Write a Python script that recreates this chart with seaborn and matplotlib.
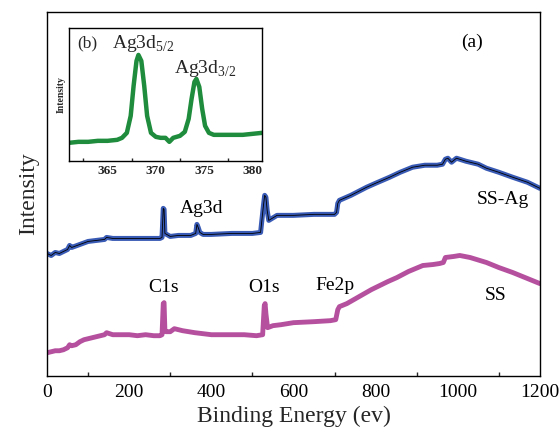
import matplotlib
matplotlib.use("Agg")
import matplotlib.pyplot as plt
import seaborn as sns
import pandas as pd
from matplotlib.ticker import MultipleLocator

sns.set_theme(style="white")
plt.rcParams['font.family'] = ['Liberation Serif', 'DejaVu Serif']
plt.rcParams['mathtext.fontset'] = 'custom'
plt.rcParams['mathtext.rm'] = 'Liberation Serif'

# ---- data (arbitrary intensity units) ----
ss_energy = [0, 10, 20, 30, 40, 50, 55, 60, 70, 80, 90, 100, 120, 140, 145, 160, 180, 200,
             220, 240, 260, 275, 280, 283, 285, 287, 290, 300, 310, 330, 360, 400, 440, 480,
             510, 525, 529, 531, 533, 537, 550, 570, 600, 650, 690, 703, 708, 712, 730, 760,
             790, 810, 830, 852, 880, 915, 940, 956, 965, 970, 990, 1005, 1030, 1070, 1100,
             1134, 1170, 1200]
ss_intensity = [23, 24, 25, 25, 26, 28, 31, 30, 31, 34, 36, 37, 39, 41, 43, 41, 41, 41,
                40, 41, 40, 40, 41, 72, 73, 45, 44, 44, 47, 45, 43, 41, 41, 41,
                40, 41, 70, 72, 62, 48, 50, 51, 53, 54, 55, 56, 66, 69, 72, 79,
                86, 90, 94, 98, 104, 110, 111, 112, 113, 118, 119, 120, 118, 113, 108,
                103, 97, 92]

ssag_energy = [0, 10, 20, 30, 40, 50, 55, 60, 80, 100, 120, 140, 145, 160, 200, 240, 275,
               280, 283, 285, 287, 300, 320, 350, 362, 365, 368, 372, 380, 400, 450, 500,
               520, 527, 530, 533, 536, 540, 560, 600, 650, 700, 705, 708, 712, 740, 778,
               800, 834, 860, 890, 920, 950, 963, 970, 976, 985, 997, 1020, 1050, 1070,
               1100, 1134, 1170, 1200]
ssag_intensity = [122, 120, 123, 122, 124, 126, 130, 128, 131, 134, 135, 136, 138, 137, 137,
                  137, 137, 138, 167, 166, 142, 139, 140, 140, 142, 151, 148, 143, 141, 141,
                  142, 142, 143, 170, 180, 178, 165, 155, 160, 160, 161, 161, 163, 172, 175,
                  180, 188, 192, 198, 203, 208, 210, 210, 211, 216, 217, 213, 217, 214, 211,
                  207, 203, 198, 193, 187]

ag_energy = [361, 362, 363, 364, 365, 366, 366.5, 367, 367.4, 367.7, 368.0, 368.2, 368.5,
             368.8, 369.1, 369.5, 370, 370.5, 371, 371.4, 371.8, 372.5, 373, 373.4, 373.7,
             374.0, 374.2, 374.5, 374.8, 375.1, 375.5, 376, 377, 378, 379, 380, 381]
ag_intensity = [18, 19, 19, 20, 20, 21, 23, 28, 45, 75, 100, 106, 100, 75, 45, 28, 24, 23,
                23, 19, 23, 25, 29, 42, 62, 79, 82, 74, 52, 35, 28, 26, 26, 26, 26, 27, 28]

main_ticks = [0, 200, 400, 600, 800, 1000, 1200]
inset_ticks = [365, 370, 375, 380]

pink = "#B5509F"
blue = "#3A5BB5"
green = "#1E8C3C"

fig = plt.figure(figsize=(5.6, 4.37), dpi=100)
ax = fig.add_axes([0.084, 0.140, 0.880, 0.833])

df_ss = pd.DataFrame({"e": ss_energy, "i": ss_intensity})
df_ag = pd.DataFrame({"e": ssag_energy, "i": ssag_intensity})
sns.lineplot(data=df_ss, x="e", y="i", ax=ax, color=pink, lw=3.5, sort=False, estimator=None)
sns.lineplot(data=df_ag, x="e", y="i", ax=ax, color=blue, lw=3.6, sort=False, estimator=None)
sns.lineplot(data=df_ag, x="e", y="i", ax=ax, color="black", lw=0.6, sort=False, estimator=None)

ax.set_xlim(0, 1200)
ax.set_ylim(0, 363)
ax.set_xticks(main_ticks)
ax.xaxis.set_minor_locator(MultipleLocator(100))
ax.set_yticks([])
ax.tick_params(axis='x', which='major', direction='in', length=5, width=1, labelsize=14, pad=6, colors='black')
ax.tick_params(axis='x', which='minor', direction='in', length=3, width=1, bottom=True)
for s in ax.spines.values():
    s.set_color('black')
    s.set_linewidth(1)
ax.set_xlabel("Binding Energy (ev)", fontsize=17, labelpad=3)
ax.set_ylabel("Intensity", fontsize=17, labelpad=6)

tk = dict(fontsize=14, ha='center', va='center', color='black')
ax.text(1036, 333, "(a)", **tk)
ax.text(1110, 176, "SS-Ag", **tk)
ax.text(377, 167, "Ag3d", **tk)
ax.text(283, 88, "C1s", **tk)
ax.text(528, 88, "O1s", **tk)
ax.text(702, 90, "Fe2p", **tk)
ax.text(1092, 80, "SS", **tk)

# inset
ins = fig.add_axes([0.123, 0.632, 0.345, 0.304])
df_in = pd.DataFrame({"e": ag_energy, "i": ag_intensity})
sns.lineplot(data=df_in, x="e", y="i", ax=ins, color=green, lw=3.2, sort=False, estimator=None)
ins.set_xlim(361, 381)
ins.set_ylim(0, 133)
ins.set_xticks(inset_ticks)
ins.xaxis.set_minor_locator(MultipleLocator(2.5))
ins.set_yticks([])
ins.tick_params(axis='x', which='major', direction='in', length=4, width=1, labelsize=9.5, pad=3)
ins.tick_params(axis='x', which='minor', direction='in', length=2.5, width=1, bottom=True)
for lab in ins.get_xticklabels():
    lab.set_fontweight('bold')
for s in ins.spines.values():
    s.set_color('black')
    s.set_linewidth(1)
ins.set_xlabel("")
ins.set_ylabel("Intensity", fontsize=7, fontweight='bold', labelpad=2)
ins.text(362.9, 118, "(b)", fontsize=12.5, ha='center', va='center')
ins.text(368.7, 117, r"Ag3d$_{5/2}$", fontsize=14, ha='center', va='center')
ins.text(375.1, 92, r"Ag3d$_{3/2}$", fontsize=14, ha='center', va='center')

fig.savefig("out.png", dpi=100)
